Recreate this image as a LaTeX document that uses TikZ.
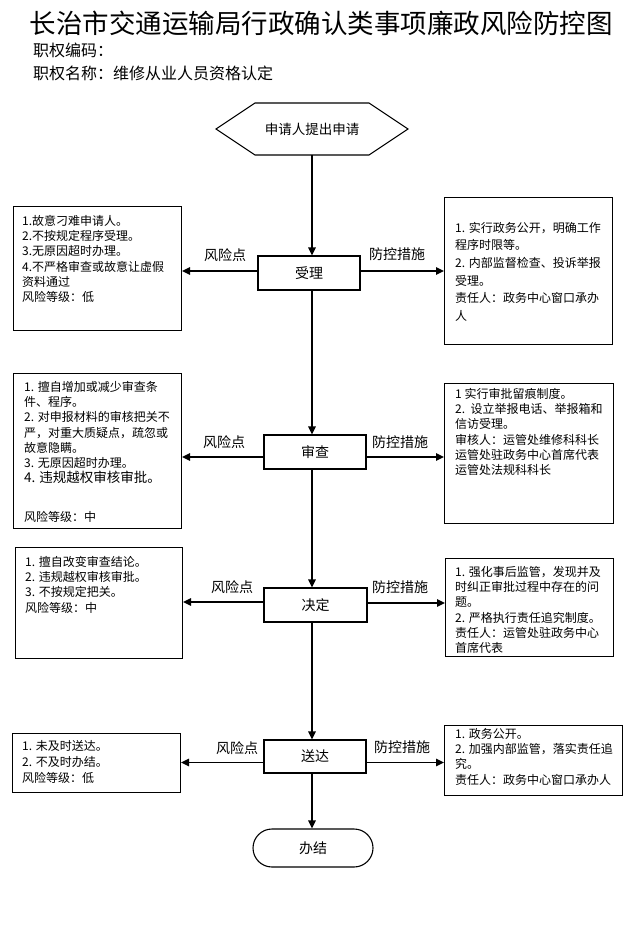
\documentclass[tikz,border=0pt]{standalone}
\usepackage{fontspec}
\setmainfont{Noto Sans CJK SC}
\usetikzlibrary{arrows.meta,shapes.misc,calc}
\tikzset{
  proc/.style={draw, line width=1.1pt, inner sep=0pt, minimum height=34pt, font=\fontsize{14}{14}\selectfont},
  sidebox/.style={draw, line width=1.1pt, inner sep=0pt, anchor=north west},
  txt/.style={align=left, inner sep=0pt, anchor=north west, font=\fontsize{12}{15.3}\selectfont},
  lbl/.style={inner sep=0pt, font=\fontsize{14}{14}\selectfont},
  arr/.style={line width=1.6pt, -{Triangle[length=8pt,width=7.5pt]}},
}
\begin{document}
\begin{tikzpicture}[x=1pt,y=-1pt]
\useasboundingbox (0,0) rectangle (643,952);
% titles
\node[inner sep=0pt, font=\fontsize{26.5}{26.5}\selectfont] (title) at (321,23) {长治市交通运输局行政确认类事项廉政风险防控图};
\node[inner sep=0pt, anchor=west, font=\fontsize{16}{16}\selectfont] (code) at (33,50) {职权编码：};
\node[inner sep=0pt, anchor=west, font=\fontsize{16}{16}\selectfont] (name) at (33,73) {职权名称：维修从业人员资格认定};

% start hexagon
\draw[line width=1.1pt] (216,129) -- (255,103) -- (369,103) -- (408,129) -- (369,155) -- (255,155) -- cycle;
\node[inner sep=0pt, font=\fontsize{13.5}{13.5}\selectfont] (start) at (312,129) {申请人提出申请};
\coordinate (startb) at (312,155);
\coordinate (mx) at (312,0);

% process boxes
\node[proc, minimum width=102pt] (shouli) at (309,273) {受理};
\node[proc, minimum width=102pt] (shencha) at (315,452) {审查};
\node[proc, minimum width=103pt] (jueding) at (315.5,605) {决定};
\node[proc, minimum width=102pt, minimum height=33pt] (songda) at (315,756.5) {送达};
\node[draw, line width=1.1pt, rounded rectangle, minimum width=120pt, minimum height=38pt, inner sep=0pt, font=\fontsize{14}{14}\selectfont] (banjie) at (313,848) {办结};

% side boxes
\node[sidebox, minimum width=168pt, minimum height=124pt] (L1) at (13,206) {};
\node[sidebox, minimum width=168pt, minimum height=147pt] (R1) at (444,197) {};
\node[sidebox, minimum width=168pt, minimum height=155pt] (L2) at (13,373) {};
\node[sidebox, minimum width=169pt, minimum height=140pt] (R2) at (444,383) {};
\node[sidebox, minimum width=167pt, minimum height=111pt] (L3) at (15,547) {};
\node[sidebox, minimum width=168pt, minimum height=98pt] (R3) at (445,558) {};
\node[sidebox, minimum width=168pt, minimum height=59pt] (L4) at (12,733) {};
\node[sidebox, minimum width=178pt, minimum height=70pt] (R4) at (444,725) {};

% side box texts
\node[txt] (L1t) at (22,215) {1.故意刁难申请人。\\2.不按规定程序受理。\\3.无原因超时办理。\\4.不严格审查或故意让虚假\\资料通过\\风险等级：低};
\node[txt, font=\fontsize{12}{17.6}\selectfont] (R1t) at (455,222) {1. 实行政务公开，明确工作\\程序时限等。\\2. 内部监督检查、投诉举报\\受理。\\责任人：政务中心窗口承办\\人};
\node[txt] (L2t) at (24,381) {1. 擅自增加或减少审查条\\件、程序。\\2. 对申报材料的审核把关不\\严，对重大质疑点，疏忽或\\故意隐瞒。\\3. 无原因超时办理。};
\node[txt, font=\fontsize{13.5}{15}\selectfont] (L2u) at (24,471) {4. 违规越权审核审批。};
\node[txt] (L2v) at (24,511) {风险等级：中};
\node[txt] (R2t) at (455,388) {1 实行审批留痕制度。\\2.\ \ 设立举报电话、举报箱和\\信访受理。\\审核人：运管处维修科科长\\运管处驻政务中心首席代表\\运管处法规科科长};
\node[txt] (L3t) at (25,556) {1. 擅自改变审查结论。\\2. 违规越权审核审批。\\3. 不按规定把关。\\风险等级：中};
\node[txt] (R3t) at (455,566) {1. 强化事后监管，发现并及\\时纠正审批过程中存在的问\\题。\\2. 严格执行责任追究制度。\\责任人：运管处驻政务中心\\首席代表};
\node[txt, font=\fontsize{12}{16}\selectfont] (L4t) at (22,740) {1. 未及时送达。\\2. 不及时办结。\\风险等级：低};
\node[txt] (R4t) at (455,728) {1. 政务公开。\\2. 加强内部监管，落实责任追\\究。\\责任人：政务中心窗口承办人};

% labels
\node[lbl] (f1) at (225,255) {风险点};
\node[lbl] (p1) at (397,254) {防控措施};
\node[lbl] (f2) at (224,442) {风险点};
\node[lbl] (p2) at (400,442) {防控措施};
\node[lbl] (f3) at (232,587) {风险点};
\node[lbl] (p3) at (400,587) {防控措施};
\node[lbl] (f4) at (237,748) {风险点};
\node[lbl] (p4) at (402,747) {防控措施};

% main flow
\draw[arr] (startb) -- (shouli.north -| mx);
\draw[arr] (shouli.south -| mx) -- (shencha.north -| mx);
\draw[arr] (shencha.south -| mx) -- (jueding.north -| mx);
\draw[arr] (jueding.south -| mx) -- (songda.north -| mx);
\draw[arr] (songda.south -| mx) -- (banjie.north -| mx);

% side arrow anchor points
\coordinate (a1l) at ([yshift=2pt]shouli.west);
\coordinate (a1r) at ([yshift=2pt]shouli.east);
\coordinate (a2l) at ([yshift=-5pt]shencha.west);
\coordinate (a2r) at ([yshift=-5pt]shencha.east);
\coordinate (a3l) at ([yshift=3pt]jueding.west);
\coordinate (a3r) at ([yshift=2pt]jueding.east);
\coordinate (a4l) at ([yshift=-6pt]songda.west);
\coordinate (a4r) at ([yshift=-6pt]songda.east);

% side arrows
\draw[arr] (a1l) -- (a1l -| L1.east);
\draw[arr] (a1r) -- (a1r -| R1.west);
\draw[arr] (a2l) -- (a2l -| L2.east);
\draw[arr] (a2r) -- (a2r -| R2.west);
\draw[arr] (a3l) -- (a3l -| L3.east);
\draw[arr] (a3r) -- (a3r -| R3.west);
\draw[arr] (a4l) -- (a4l -| L4.east);
\draw[arr] (a4r) -- (a4r -| R4.west);
\end{tikzpicture}
\end{document}
